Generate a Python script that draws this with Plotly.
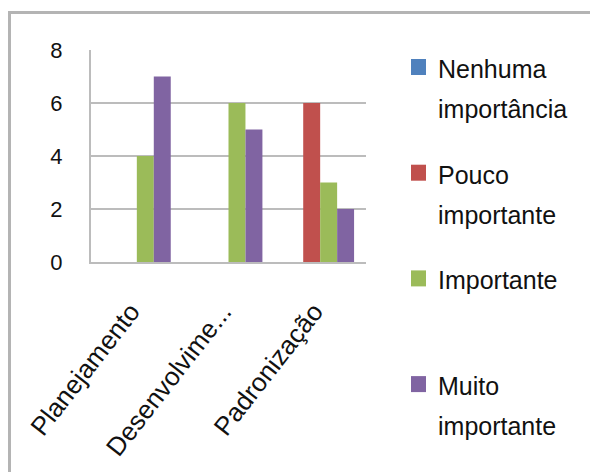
import plotly.graph_objects as go

# Survey answers per topic
categories = ["Planejamento", "Desenvolvimento", "Padronização"]
category_labels = ["Planejamento", "Desenvolvime...", "Padronização"]
series_names = ["Nenhuma importância", "Pouco importante", "Importante", "Muito importante"]
legend_lines = [["Nenhuma", "importância"], ["Pouco", "importante"], ["Importante"], ["Muito", "importante"]]
nenhuma = [0, 0, 0]
pouco = [0, 0, 6]
importante = [4, 6, 3]
muito = [7, 5, 2]
y_ticks = [0, 2, 4, 6, 8]
colors = ["#4F81BD", "#C0504D", "#9BBB59", "#8064A2"]

W, H = 590, 472
L, R, T, B = 91, 366, 50, 262  # plot area in pixels
FONT = "Liberation Sans, Arial, sans-serif"


def px_x(x):
    return (x - L) / (R - L)


def px_y(y):
    return (B - y) / (B - T)


fig = go.Figure()
for name, vals, col in zip(series_names, [nenhuma, pouco, importante, muito], colors):
    fig.add_trace(go.Bar(name=name, x=categories, y=vals, marker=dict(color=col, line=dict(width=0)),
                         showlegend=False))

shapes = []
annotations = []
# outer chart frame
shapes.append(dict(type="rect", xref="paper", yref="paper",
                   x0=px_x(9.5), x1=px_x(W + 20), y0=px_y(H + 20), y1=px_y(12.5),
                   line=dict(color="#b4b4b4", width=3), fillcolor="rgba(0,0,0,0)", layer="below"))

# legend: square + text lines
first_baseline = 78
step = 105.7
for i, (lines, col) in enumerate(zip(legend_lines, colors)):
    base = first_baseline + i * step
    shapes.append(dict(type="rect", xref="paper", yref="paper",
                       x0=px_x(411), x1=px_x(426), y0=px_y(base - 3), y1=px_y(base - 19),
                       line=dict(width=0), fillcolor=col))
    for j, txt in enumerate(lines):
        annotations.append(dict(text=txt, xref="paper", yref="paper", showarrow=False,
                                x=px_x(436), y=px_y(base + j * 40 - 9), xanchor="left", yanchor="middle",
                                font=dict(family=FONT, size=25, color="#111111")))

fig.update_layout(
    width=W, height=H,
    margin=dict(l=L, r=W - R, t=T, b=H - B),
    paper_bgcolor="white", plot_bgcolor="white",
    barmode="group", bargap=0.26, bargroupgap=0,
    shapes=shapes, annotations=annotations,
    font=dict(family=FONT, color="#111111"),
)
fig.update_xaxes(tickvals=categories, ticktext=category_labels, tickangle=-52,
                 tickfont=dict(family=FONT, size=26, color="#111111"),
                 showline=True, linecolor="#bcbcbc", linewidth=2, ticks="", showgrid=False,
                 ticklabelstandoff=22, ticklabelshift=-6, automargin=False)
fig.update_yaxes(range=[0, 8], tickvals=y_ticks, tickfont=dict(family=FONT, size=22, color="#111111"),
                 showline=True, linecolor="#bcbcbc", linewidth=2, gridcolor="#bcbcbc", gridwidth=2,
                 zeroline=False, ticks="", ticklabelstandoff=22, automargin=False)

fig.write_html("out.html")
